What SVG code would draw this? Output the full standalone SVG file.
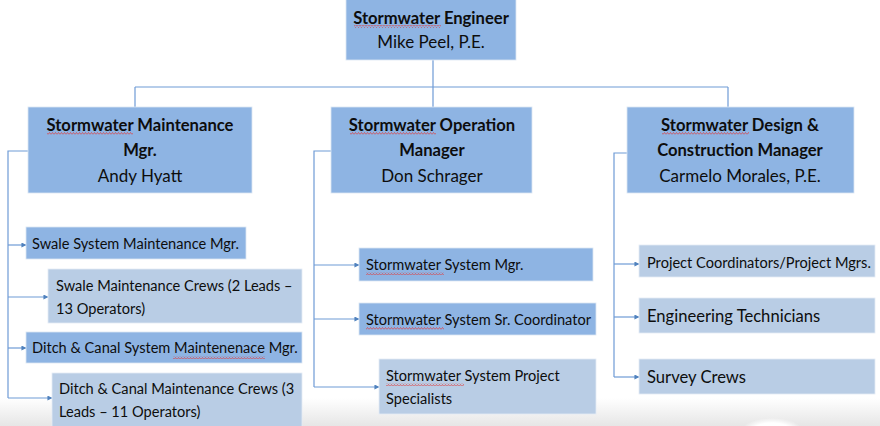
<svg xmlns="http://www.w3.org/2000/svg" width="880" height="426" viewBox="0 0 880 426">
  <defs>
    <style>
      .dark { fill: #8eb4e3; stroke: #dbe6f3; stroke-width: 0.8; }
      .light { fill: #b9cde5; stroke: #e4ecf6; stroke-width: 0.8; }
      .t { font-family: Lato, "Open Sans", "Liberation Sans", sans-serif; fill: #0d0d0d; }
      .head { font-size: 16.6px; font-weight: bold; text-anchor: middle; }
      .name { font-size: 17px; text-anchor: middle; }
      .item { font-size: 14.6px; }
      .big { font-size: 16.6px; }
      .wire { fill: none; stroke: #6f9bd6; stroke-width: 1.2; }
      .arrow { fill: none; stroke: #6f9bd6; stroke-width: 1.2; marker-end: url(#tip); }
      .squig { fill: url(#wave); }
    </style>
    <marker id="tip" viewBox="0 0 6 6" refX="5.5" refY="3" markerWidth="5" markerHeight="5" markerUnits="userSpaceOnUse" orient="auto">
      <path d="M0,0 L6,3 L0,6 z" fill="#4f81bd"/>
    </marker>
    <pattern id="wave" width="3" height="3" patternUnits="userSpaceOnUse">
      <polyline points="0,2.5 1.5,0.5 3,2.5" fill="none" stroke="#e03c3c" stroke-width="0.7"/>
    </pattern>
    <linearGradient id="floor" x1="0" y1="0" x2="0" y2="1">
      <stop offset="0" stop-color="#ffffff"/>
      <stop offset="1" stop-color="#e6e6e6"/>
    </linearGradient>
    <radialGradient id="gloss" cx="0.5" cy="0.5" r="0.5">
      <stop offset="0.6" stop-color="#ffffff"/>
      <stop offset="1" stop-color="#ffffff" stop-opacity="0"/>
    </radialGradient>
  </defs>

  <rect width="880" height="426" fill="#ffffff"/>
  <rect x="0" y="398" width="880" height="28" fill="url(#floor)"/>
  <ellipse cx="772" cy="430" rx="30" ry="12" fill="url(#gloss)"/>

  <!-- connectors -->
  <g id="connectors">
    <path class="wire" d="M433,60 V107 M135,87 H728 M135,87 V107 M728,87 V107"/>
    <path class="wire" d="M28,151 H8 V398"/>
    <path class="arrow" d="M8,245 H26"/>
    <path class="arrow" d="M8,297 H48"/>
    <path class="arrow" d="M8,348 H26"/>
    <path class="arrow" d="M8,398 H52"/>
    <path class="wire" d="M331,151 H314 V387"/>
    <path class="arrow" d="M314,265 H359"/>
    <path class="arrow" d="M314,319 H359"/>
    <path class="arrow" d="M314,387 H379"/>
    <path class="wire" d="M627,153 H614 V377"/>
    <path class="arrow" d="M614,264 H639"/>
    <path class="arrow" d="M614,317 H639"/>
    <path class="arrow" d="M614,377 H639"/>
  </g>

  <!-- top level -->
  <g id="engineer">
    <rect class="dark" x="346" y="-1" width="170" height="61"/>
    <text class="t head" x="431" y="24">Stormwater Engineer</text>
    <text class="t name" x="431" y="48">Mike Peel, P.E.</text>
    <rect class="squig" x="354" y="25" width="87" height="3"/>
  </g>

  <!-- managers -->
  <g id="maintenance-mgr">
    <rect class="dark" x="28" y="107" width="224" height="86"/>
    <text class="t head" x="140" y="131">Stormwater Maintenance</text>
    <text class="t head" x="140" y="156">Mgr.</text>
    <text class="t name" x="140" y="182">Andy Hyatt</text>
    <rect class="squig" x="47" y="132" width="86" height="3"/>
  </g>
  <g id="operation-mgr">
    <rect class="dark" x="331" y="107" width="201" height="86"/>
    <text class="t head" x="432" y="131">Stormwater Operation</text>
    <text class="t head" x="432" y="156">Manager</text>
    <text class="t name" x="432" y="182">Don Schrager</text>
    <rect class="squig" x="350" y="132" width="86" height="3"/>
  </g>
  <g id="design-mgr">
    <rect class="dark" x="627" y="107" width="227" height="86"/>
    <text class="t head" x="740" y="131">Stormwater Design &amp;</text>
    <text class="t head" x="740" y="156">Construction Manager</text>
    <text class="t name" x="740" y="182">Carmelo Morales, P.E.</text>
    <rect class="squig" x="662" y="132" width="87" height="3"/>
  </g>

  <!-- maintenance staff -->
  <g id="swale-mgr">
    <rect class="dark" x="26" y="227" width="220" height="32"/>
    <text class="t item" x="32" y="249">Swale System Maintenance Mgr.</text>
  </g>
  <g id="swale-crews">
    <rect class="light" x="48" y="269" width="254" height="54"/>
    <text class="t item" x="56" y="291">Swale Maintenance Crews (2 Leads –</text>
    <text class="t item" x="56" y="314">13 Operators)</text>
  </g>
  <g id="canal-mgr">
    <rect class="dark" x="26" y="332" width="276" height="31"/>
    <text class="t item" x="32" y="353">Ditch &amp; Canal System Maintenenace Mgr.</text>
    <rect class="squig" x="173" y="356" width="92" height="3"/>
  </g>
  <g id="canal-crews">
    <rect class="light" x="52" y="373" width="250" height="56"/>
    <text class="t item" x="59" y="394">Ditch &amp; Canal Maintenance Crews (3</text>
    <text class="t item" x="59" y="417">Leads – 11 Operators)</text>
  </g>

  <!-- operation staff -->
  <g id="system-mgr">
    <rect class="dark" x="359" y="248" width="234" height="33"/>
    <text class="t item" x="366" y="270">Stormwater System Mgr.</text>
    <rect class="squig" x="366" y="272" width="78" height="3"/>
  </g>
  <g id="sr-coordinator">
    <rect class="dark" x="359" y="303" width="237" height="32"/>
    <text class="t item" x="366" y="325">Stormwater System Sr. Coordinator</text>
    <rect class="squig" x="366" y="327" width="78" height="3"/>
  </g>
  <g id="project-specialists">
    <rect class="light" x="379" y="359" width="217" height="55"/>
    <text class="t item" x="386" y="381">Stormwater System Project</text>
    <text class="t item" x="386" y="404">Specialists</text>
    <rect class="squig" x="386" y="383" width="78" height="3"/>
  </g>

  <!-- design staff -->
  <g id="project-coordinators">
    <rect class="light" x="639" y="245" width="236" height="32"/>
    <text class="t item" x="647" y="268">Project Coordinators/Project Mgrs.</text>
  </g>
  <g id="engineering-technicians">
    <rect class="light" x="639" y="298" width="236" height="35"/>
    <text class="t big" x="647" y="322">Engineering Technicians</text>
  </g>
  <g id="survey-crews">
    <rect class="light" x="639" y="359" width="236" height="35"/>
    <text class="t big" x="647" y="383">Survey Crews</text>
  </g>
</svg>
